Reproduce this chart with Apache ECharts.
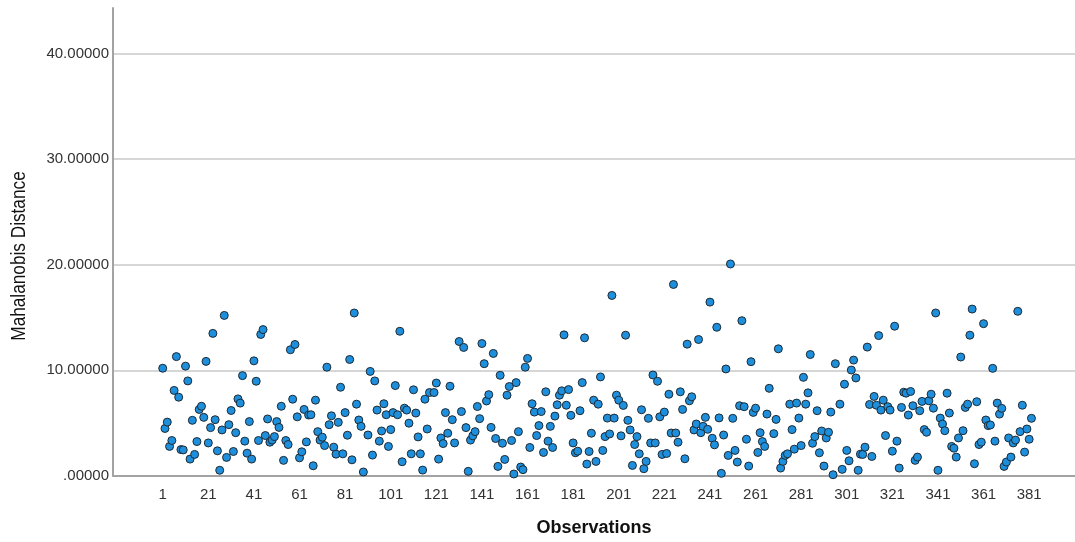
<!DOCTYPE html>
<html>
<head>
<meta charset="utf-8">
<script src="https://cdn.jsdelivr.net/npm/echarts@6/dist/echarts.min.js"></script>
<style>
  html, body { margin: 0; padding: 0; background: #fff; }
  #chart { width: 1075px; height: 542px; }
</style>
</head>
<body>
<div id="chart"></div>
<script>
// Mahalanobis distance per observation (observation n = index n-1; null = not shown)
const distance = [
  10.2, 4.5, 5.1, 2.8, 3.36, 8.1, 11.3, 7.46, 2.5, 2.47,
  10.4, 9.0, 1.6, 5.27, 2.04, 3.26, 6.3, 6.6, 5.55, 10.85,
  3.13, 4.58, 13.5, 5.33, 2.38, 0.54, 4.36, 15.2, 1.76, 4.86,
  6.2, 2.32, 4.1, 7.3, 6.9, 9.5, 3.3, 2.16, 5.15, 1.6,
  10.9, 8.97, 3.36, 13.4, 13.86, 3.83, 5.4, 3.2, 3.4, 3.73,
  5.15, 4.6, 6.6, 1.48, 3.36, 2.98, 11.95, 7.27, 12.45, 5.6,
  1.72, 2.29, 6.3, 3.23, 5.77, 5.8, 0.97, 7.18, 4.2, 3.4,
  3.67, 2.88, 10.3, 4.86, 5.7, 2.73, 2.07, 5.08, 8.4, 2.1,
  6.0, 3.86, 11.03, 1.53, 15.43, 6.8, 5.3, 4.7, 0.38, null,
  3.88, 9.9, 1.98, 9.0, 6.24, 3.3, 4.26, 6.84, 5.8, 2.8,
  4.39, 6.0, 8.56, 5.8, 13.7, 1.35, 6.42, 6.24, 5.0, 2.1,
  8.16, 5.96, 3.7, 2.1, 0.56, 7.27, 4.45, 7.9, null, 7.9,
  8.8, 1.6, 3.6, 3.07, 6.0, 4.05, 8.5, 5.33, 3.13, null,
  12.73, 6.1, 12.17, 4.58, 0.44, 3.4, 3.8, 4.2, 6.58, 5.43,
  12.54, 10.63, 7.1, 7.7, 4.6, 11.6, 3.55, 0.91, 9.53, 3.1,
  1.57, 7.65, 8.47, 3.36, 0.19, 8.84, 4.2, 0.85, 0.6, 10.3,
  11.13, 2.7, 6.84, 6.05, 3.83, 4.77, 6.1, 2.23, 7.97, 3.3,
  4.7, 2.7, 5.67, 6.74, 7.65, 8.06, 13.36, 6.7, 8.18, 5.74,
  3.13, 2.2, 2.35, 6.18, 8.84, 13.08, 1.13, 2.32, 4.05, 7.18,
  1.38, 6.8, 9.38, 2.42, 3.73, 5.48, 3.98, 17.09, 5.48, 7.65,
  7.18, 3.8, 6.68, 13.33, 5.27, 4.36, 1.0, 2.98, 3.73, 2.1,
  6.27, 0.69, 1.38, 5.46, 3.13, 9.56, 3.13, 8.97, 5.6, 2.04,
  6.05, 2.13, 7.74, 4.07, 18.13, 4.07, 3.2, 7.97, 6.3, 1.63,
  12.48, 7.12, 7.5, 4.36, 4.92, 12.92, 4.1, 4.7, 5.55, 4.42,
  16.46, 3.57, 2.95, 14.08, 5.5, 0.25, 3.88, 10.13, 1.95, 20.07,
  5.46, 2.42, 1.32, 6.65, 14.7, 6.56, 3.48, 0.94, 10.82, 6.02,
  6.42, 2.23, 4.1, 3.26, 2.8, 5.86, 8.3, null, 4.01, 5.36,
  12.04, 0.75, 1.38, 1.95, 2.1, 6.8, 4.39, 2.54, 6.9, 5.48,
  2.88, 9.34, 6.8, 7.87, 11.5, 3.1, 3.73, 6.18, 2.2, 4.26,
  0.94, 3.6, 4.14, 6.05, 0.12, 10.63, null, 6.8, 0.63, 8.69,
  2.42, 1.44, 10.03, 10.97, 9.28, 0.54, 2.07, 2.04, 2.73, 12.2,
  6.77, 1.85, 7.53, 6.7, 13.29, 6.24, 7.18, 3.83, 6.56, 6.24,
  2.35, 14.18, 3.3, 0.75, 6.49, 7.93, 7.84, 5.77, 8.0, 6.65,
  1.48, 1.79, 6.18, 7.06, 4.39, 4.14, 7.12, 7.74, 6.42, 15.43,
  0.54, 5.48, 4.92, 4.29, 7.84, 5.96, 2.8, 2.63, 1.79, 3.6,
  11.26, 4.29, 6.49, 6.8, 13.33, 15.8, 1.16, 7.03, 2.98, 3.2,
  14.42, 5.3, 4.77, 4.83, 10.19, 3.3, 6.9, 5.86, 6.4, 0.91,
  1.32, 3.6, 1.79, 3.13, 3.4, 15.59, 4.2, 6.7, 2.26, 4.45,
  3.48, 5.46
];

// Observation numbers shown along the horizontal axis
const observationTicks = [1, 21, 41, 61, 81, 101, 121, 141, 161, 181,
  201, 221, 241, 261, 281, 301, 321, 341, 361, 381];

// Vertical axis gridline values
const distanceTicks = [0, 10, 20, 30, 40];

const points = [];
distance.forEach(function (d, i) {
  if (d !== null) points.push([i + 1, d]);
});

const FONT = '"Liberation Sans", Arial, sans-serif';

const chart = echarts.init(document.getElementById('chart'), null, { renderer: 'canvas' });

chart.setOption({
  animation: false,
  backgroundColor: '#ffffff',
  grid: { left: 113, right: 0, top: 8, bottom: 63, containLabel: false },
  // vertical axis title, set in a narrow face
  graphic: [{
    type: 'text',
    x: 19,
    y: 256,
    rotation: Math.PI / 2,
    scaleX: 0.82,
    silent: true,
    style: {
      text: 'Mahalanobis Distance',
      font: 'normal 21px "Liberation Sans", Arial, sans-serif',
      fill: '#111',
      align: 'center',
      verticalAlign: 'middle'
    }
  }],
  xAxis: {
    type: 'value',
    min: -20.8,
    max: 401.1,
    name: 'Observations',
    nameLocation: 'middle',
    nameGap: 43,
    nameTextStyle: { fontFamily: FONT, fontSize: 18, fontWeight: 'bold', color: '#111' },
    axisLine: { show: true, onZero: false, lineStyle: { color: '#a3a3a3', width: 2 } },
    axisTick: { show: false },
    splitLine: { show: false },
    axisLabel: {
      customValues: observationTicks,
      margin: 11,
      fontFamily: FONT,
      fontSize: 15,
      color: '#333'
    }
  },
  yAxis: {
    type: 'value',
    min: 0,
    max: 44.3,
    interval: 10,
    axisLine: { show: true, onZero: false, lineStyle: { color: '#a3a3a3', width: 2 } },
    axisTick: { show: false },
    splitLine: {
      show: true,
      showMaxLine: false,
      lineStyle: { color: '#d6d6d6', width: 2 }
    },
    axisLabel: {
      showMaxLabel: false,
      margin: 4,
      fontFamily: FONT,
      fontSize: 15,
      color: '#333',
      formatter: function (v) {
        if (distanceTicks.indexOf(v) < 0) return '';
        return v === 0 ? '.00000' : v.toFixed(5);
      }
    }
  },
  series: [{
    type: 'scatter',
    data: points,
    symbol: 'circle',
    symbolSize: 8,
    itemStyle: { color: '#1d8fdc', borderColor: '#1e2a33', borderWidth: 1, opacity: 1 },
    emphasis: { disabled: true }
  }]
});
</script>
</body>
</html>
